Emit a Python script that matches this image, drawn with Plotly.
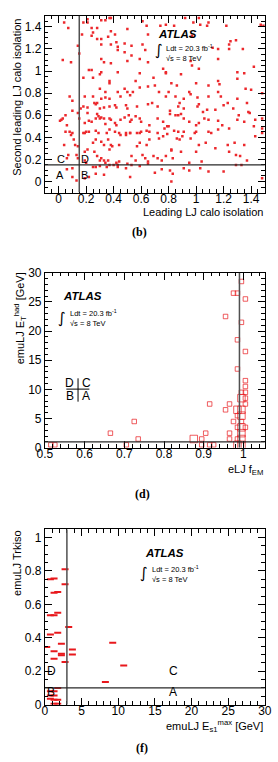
import plotly.graph_objects as go

# ---------------- panel (b) data: leading vs second-leading LJ calo isolation
b_x = [0.04,0.07,0.18,0.21,0.21,0.31,0.34,0.37,0.38,0.24,0.28,0.25,0.38,0.50,0.64,0.17,0.24,0.28,0.31,0.36,
       0.41,0.42,0.61,0.74,0.78,0.84,0.92,0.98,1.02,1.03,1.08,1.22,1.47,1.49,0.31,0.38,0.43,0.43,0.48,0.48,
       0.53,0.53,0.61,0.65,0.63,0.97,1.16,1.24,1.24,1.34,0.14,0.15,0.03,0.09,0.31,0.33,0.38,0.50,0.59,0.65,
       0.76,0.96,0.97,1.02,1.16,0.22,0.24,0.31,0.43,0.59,0.78,1.30,1.35,1.09,1.12,1.25,1.29,1.42,
       0.18,0.25,0.30,0.37,0.37,0.56,0.69,0.78,0.82,0.86,0.89,0.95,1.00,1.09,1.16,1.17,1.30,1.36,1.40,
       0.30,0.34,0.19,0.08,0.10,0.25,0.28,0.31,0.34,0.37,0.43,0.45,0.48,0.50,0.52,0.54,0.59,0.65,0.70,0.73,
       0.78,0.80,0.85,0.91,0.96,1.01,1.02,1.09,1.16,1.18,1.23,1.30,1.37,1.48,
       0.16,0.18,0.21,0.26,0.27,0.21,0.28,0.30,0.33,0.37,0.41,0.42,0.49,0.50,0.57,0.65,0.68,0.72,0.81,0.87,
       0.88,0.91,1.01,1.05,1.08,1.14,1.20,1.27,1.38,
       0.01,0.02,0.03,0.05,0.06,0.10,0.14,0.15,0.19,0.22,0.24,0.27,0.29,0.30,0.31,0.33,0.34,0.37,0.38,0.41,
       0.42,0.45,0.48,0.51,0.52,0.53,0.56,0.59,0.60,0.66,0.72,0.76,0.79,0.81,0.85,0.87,0.89,0.91,0.95,1.00,
       1.02,1.06,1.09,1.16,1.19,1.30,1.31,1.35,1.39,1.43,1.48,
       0.08,0.10,0.19,0.20,0.27,0.29,0.35,0.37,0.41,0.44,0.49,0.52,0.59,0.60,0.64,0.66,0.72,0.77,0.80,0.84,
       0.87,0.91,1.00,1.09,1.16,1.24,1.42,1.48,
       0.05,0.09,0.11,0.12,0.14,0.04,0.07,0.06,0.13,0.14,0.10,0.06,0.10,0.13,
       0.18,0.22,0.27,0.25,0.31,0.33,0.36,0.38,0.37,0.39,0.44,0.45,0.49,0.52,0.57,0.59,0.57,0.64,0.66,0.73,
       0.76,0.79,0.82,0.86,0.88,0.90,0.96,0.99,1.02,1.07,1.11,1.14,1.23,1.28,1.35,1.43,1.48,
       0.19,0.21,0.26,0.28,0.30,0.31,0.33,0.34,0.36,0.37,0.40,0.42,0.43,0.44,0.50,0.53,0.56,0.61,0.63,0.65,
       0.69,0.72,0.75,0.78,0.82,0.83,0.89,0.95,1.00,1.04,1.24,1.29,1.32,1.37,1.33,
       0.19,0.20,0.25,0.27,0.30,0.35,0.43,0.49,0.53,0.59,0.65,0.70,0.75,0.81,0.83,0.91,0.95,1.03,1.09,1.20,
       1.29,1.48,0.22,0.27,0.33,0.52,0.82,0.19]
b_y = [1.44,1.39,1.44,1.44,1.47,1.46,1.46,1.48,1.48,1.39,1.39,1.35,1.36,1.38,1.41,1.33,1.32,1.29,1.29,1.31,
       1.33,1.26,1.45,1.41,1.42,1.41,1.48,1.44,1.48,1.42,1.41,1.41,1.42,1.41,1.24,1.24,1.22,1.19,1.25,1.17,
       1.23,1.14,1.24,1.33,1.19,1.32,1.20,1.24,1.20,1.20,1.23,1.16,1.10,1.08,1.11,1.08,1.07,1.09,1.11,1.08,
       1.02,1.09,1.05,1.02,1.11,1.01,1.01,0.99,0.99,0.98,0.99,0.99,0.98,1.44,1.21,1.27,1.28,1.04,
       0.94,0.94,0.97,0.91,0.89,0.91,0.94,0.98,0.89,0.87,0.97,0.81,0.89,0.87,0.91,0.88,0.93,0.84,0.83,
       0.84,0.81,0.77,0.77,0.73,0.77,0.71,0.75,0.76,0.75,0.81,0.77,0.84,0.81,0.78,0.81,0.85,0.86,0.87,0.81,
       0.77,0.81,0.77,0.75,0.79,0.76,0.70,0.77,0.81,0.77,0.71,0.75,0.71,0.80,
       0.66,0.68,0.67,0.71,0.70,0.62,0.61,0.66,0.67,0.68,0.69,0.67,0.69,0.66,0.68,0.70,0.71,0.68,0.64,0.68,
       0.71,0.66,0.68,0.63,0.65,0.65,0.69,0.66,0.63,
       0.55,0.56,0.57,0.60,0.51,0.64,0.62,0.57,0.53,0.55,0.54,0.57,0.59,0.57,0.58,0.57,0.52,0.57,0.56,0.53,
       0.51,0.56,0.58,0.60,0.54,0.56,0.59,0.57,0.54,0.51,0.57,0.54,0.50,0.61,0.60,0.60,0.61,0.57,0.54,0.51,
       0.53,0.57,0.56,0.55,0.51,0.56,0.60,0.54,0.62,0.56,0.57,
       0.45,0.44,0.44,0.45,0.46,0.44,0.44,0.47,0.45,0.44,0.44,0.44,0.44,0.45,0.46,0.45,0.44,0.48,0.50,0.46,
       0.45,0.45,0.45,0.45,0.47,0.48,0.50,0.48,
       0.45,0.42,0.38,0.33,0.32,0.33,0.24,0.21,0.24,0.21,0.12,0.11,0.04,0.01,
       0.44,0.45,0.38,0.35,0.36,0.33,0.38,0.33,0.29,0.32,0.33,0.42,0.42,0.44,0.44,0.35,0.32,0.33,0.38,0.39,
       0.41,0.43,0.29,0.39,0.38,0.41,0.39,0.44,0.33,0.35,0.44,0.30,0.33,0.35,0.33,0.41,0.44,
       0.27,0.29,0.27,0.23,0.19,0.21,0.19,0.17,0.19,0.15,0.15,0.17,0.15,0.18,0.16,0.23,0.19,0.24,0.21,0.18,
       0.23,0.21,0.19,0.23,0.28,0.21,0.27,0.17,0.27,0.18,0.27,0.24,0.23,0.19,0.15,
       0.19,0.17,0.13,0.13,0.14,0.13,0.13,0.12,0.15,0.14,0.16,0.08,0.11,0.10,0.07,0.12,0.10,0.12,0.09,0.09,
       0.15,0.03,0.04,0.07,0.06,0.04,0.00,0.03]
b_cuts = [0.15, 0.15]  # x cut, y cut

# ---------------- panel (d) data: eLJ f_EM vs emuLJ E_T^had
d_x = [0.515,0.525,0.665,0.705,0.725,0.735,0.875,0.895,0.895,0.905,0.915,0.915,0.925,
       0.955,0.955,0.965,0.965,0.965,0.975,0.975,
       0.985,0.985,0.985,0.985,0.985,0.985,0.985,0.985,
       0.995,0.995,0.995,0.995,0.995,0.995,0.995,0.995,0.995,0.995,0.995,
       1.005,1.005,1.005,1.005,1.005,1.005,1.005,1.005]
d_y = [0.5,0.5,2.5,0.5,4.5,1.5,1.5,1.5,0.5,2.5,7.5,0.5,0.5,
       22.5,6.5,7.5,2.5,1.5,26.5,4.5,
       26.5,18.5,13.5,6.5,5.5,3.5,1.5,0.5,
       28.5,21.5,9.5,8.5,6.5,5.5,4.5,3.5,2.5,1.5,0.5,
       25.5,16.5,11.5,10.5,9.5,8.5,7.5,3.5]
d_n = [1,1,1,1,1,1,2,1,1,1,1,1,1,
       1,1,1,1,1,1,1,
       1,1,1,2,1,1,1,2,
       1,1,1,2,2,2,1,2,2,2,2,
       1,1,1,1,1,1,1,1]
d_cuts = [0.99, 1.0]

# ---------------- panel (f) data: emuLJ E_s1^max vs emuLJ Trkiso
f_x = [2.75,0.75,1.25,2.75,1.25,1.75,1.75,0.75,1.25,3.25,0.75,1.75,2.25,0.25,9.25,1.25,3.75,
       2.25,2.25,3.75,1.25,2.75,10.75,8.25,1.75,
       0.75,1.25,0.75,1.25,0.75,1.25,1.75,1.25,1.75]
f_y = [0.81,0.75,0.755,0.72,0.67,0.675,0.55,0.535,0.535,0.465,0.42,0.43,0.365,0.345,0.37,0.32,0.33,
       0.305,0.295,0.30,0.275,0.255,0.235,0.135,0.10,
       0.08,0.08,0.055,0.055,0.035,0.03,0.03,0.005,0.005]
f_cuts = [3.0, 0.1]

FONT = "Liberation Sans, Arial, Helvetica, sans-serif"
RED = "rgb(232,24,28)"

fig = go.Figure()
fig.add_trace(go.Scatter(x=b_x, y=b_y, mode="markers", xaxis="x", yaxis="y",
                         marker=dict(symbol="square", size=2.5, color="rgb(236,40,44)", line=dict(width=0)),
                         showlegend=False, hoverinfo="skip"))
fig.add_trace(go.Scatter(x=d_x, y=d_y, mode="markers", xaxis="x2", yaxis="y2",
                         marker=dict(symbol="square-open", size=[4.5 if n == 1 else 7.5 for n in d_n],
                                     color=RED, line=dict(width=1, color=RED)),
                         showlegend=False, hoverinfo="skip"))
fig.add_trace(go.Scatter(x=f_x, y=f_y, mode="markers", xaxis="x3", yaxis="y3",
                         marker=dict(symbol="line-ew", size=5, color=RED, line=dict(width=2, color=RED)),
                         showlegend=False, hoverinfo="skip"))

XD = [39 / 278, 271.5 / 278]


def ydom(top, bot):
    return [1 - bot / 762, 1 - top / 762]


def axis(rng, dtick, minor, domain, anchor, tick0=0, standoff=0):
    return dict(range=rng, dtick=dtick, tick0=tick0, domain=domain, anchor=anchor,
                showline=True, linecolor="black", linewidth=1, mirror="allticks",
                ticks="inside", ticklen=7, tickwidth=1, tickcolor="black",
                minor=dict(ticks="inside", ticklen=3.5, dtick=minor, tickcolor="black", tickwidth=1),
                showgrid=False, zeroline=False, ticklabeloverflow="allow",
                ticklabelstandoff=standoff,
                tickfont=dict(family=FONT, size=12, color="black"))


fig.update_layout(
    width=278, height=762, margin=dict(l=0, r=0, t=0, b=0),
    paper_bgcolor="white", plot_bgcolor="white",
    xaxis=axis([-0.1, 1.5], 0.2, 0.05, XD, "y", standoff=-5),
    yaxis=axis([-0.1, 1.5], 0.2, 0.05, ydom(9, 189), "x"),
    xaxis2=axis([0.5, 1.054], 0.1, 0.02, XD, "y2", tick0=0.5, standoff=-5),
    yaxis2=axis([0, 30], 5, 1, ydom(270.7, 449), "x2"),
    xaxis3=axis([0, 30], 5, 1, XD, "y3", standoff=-5),
    yaxis3=axis([0, 1.05], 0.2, 0.05, ydom(532, 710.7), "x3"),
)

shapes = []
for xr, yr, cx, cy, lo_y, hi_y, lo_x, hi_x in [
        ("x", "y", b_cuts[0], b_cuts[1], -0.1, 1.5, -0.1, 1.5),
        ("x2", "y2", d_cuts[0], d_cuts[1], 0, 30, 0.5, 1.054),
        ("x3", "y3", f_cuts[0], f_cuts[1], 0, 1.05, 0, 30)]:
    shapes.append(dict(type="line", xref=xr, yref=yr, x0=cx, x1=cx, y0=lo_y, y1=hi_y,
                       line=dict(color="rgb(80,80,80)", width=1.5)))
    shapes.append(dict(type="line", xref=xr, yref=yr, x0=lo_x, x1=hi_x, y0=cy, y1=cy,
                       line=dict(color="rgb(40,40,40)", width=1.2)))
# small D|C / B|A legend cross in panel (d)
shapes.append(dict(type="line", xref="x2", yref="y2", x0=0.5835, x1=0.5835, y0=7.9, y1=11.9,
                   line=dict(color="black", width=1)))
shapes.append(dict(type="line", xref="x2", yref="y2", x0=0.554, x1=0.612, y0=10.05, y1=10.05,
                   line=dict(color="black", width=1)))
fig.update_layout(shapes=shapes)

ann = []


def txt(x, y, text, xr, yr, size=11, xanchor="left", yanchor="middle", **kw):
    ann.append(dict(x=x, y=y, xref=xr, yref=yr, text=text, showarrow=False,
                    xanchor=xanchor, yanchor=yanchor,
                    font=dict(family=FONT, size=size, color="black"), **kw))


def atlas(xr, yr, x, y, xi, yi, xl, yl, ys):
    txt(x, y, "<b><i>ATLAS</i></b>", xr, yr, size=11.5)
    ann.append(dict(x=xi, y=yi, xref=xr, yref=yr, text="∫", showarrow=False,
                    xanchor="right", yanchor="middle",
                    font=dict(family="DejaVu Sans", size=15, color="black")))
    txt(xl, yl, "Ldt = 20.3 fb<sup>-1</sup>", xr, yr, size=7.5)
    txt(xl, ys, "√s = 8 TeV", xr, yr, size=7.5)


# panel (b)
atlas("x", "y", 0.71, 1.34, 0.775, 1.19, 0.77, 1.21, 1.11)
txt(0.02, 0.20, "C", "x", "y", xanchor="center")
txt(0.19, 0.20, "D", "x", "y", xanchor="center")
txt(0.01, 0.055, "A", "x", "y", xanchor="center")
txt(0.19, 0.055, "B", "x", "y", xanchor="center")
# panel (d)
atlas("x2", "y2", 0.541, 26.0, 0.559, 22.3, 0.558, 23.1, 21.3)
txt(0.562, 11.1, "D", "x2", "y2", size=12, xanchor="center")
txt(0.604, 11.1, "C", "x2", "y2", size=12, xanchor="center")
txt(0.562, 8.9, "B", "x2", "y2", size=12, xanchor="center")
txt(0.604, 8.9, "A", "x2", "y2", size=12, xanchor="center")
# panel (f)
atlas("x3", "y3", 13.4, 0.905, 14.3, 0.79, 14.3, 0.812, 0.75)
txt(0.9, 0.204, "D", "x3", "y3", size=12, xanchor="center")
txt(17.5, 0.204, "C", "x3", "y3", size=12, xanchor="center")
txt(0.8, 0.075, "B", "x3", "y3", size=12, xanchor="center")
txt(17.5, 0.075, "A", "x3", "y3", size=12, xanchor="center")

# axis titles
txt(XD[1], 1 - 209 / 762, "Leading LJ calo isolation", "paper", "paper", size=11, xanchor="right")
txt(10 / 278, 1 - 10 / 762, "Second leading LJ calo isolation", "paper", "paper", size=11,
    xanchor="center", yanchor="top", textangle=-90)
txt(XD[1], 1 - 472 / 762, "eLJ f<sub>EM</sub>", "paper", "paper", size=11, xanchor="right")
txt(13 / 278, 1 - 268 / 762, "emuLJ E<sub>T</sub><sup>had</sup> [GeV]", "paper", "paper", size=11,
    xanchor="center", yanchor="top", textangle=-90)
txt(XD[1], 1 - 732 / 762, "emuLJ E<sub>s1</sub><sup>max</sup> [GeV]", "paper", "paper", size=11,
    xanchor="right")
txt(10 / 278, 1 - 531.7 / 762, "emuLJ Trkiso", "paper", "paper", size=11,
    xanchor="center", yanchor="top", textangle=-90)

# captions
for cx, cy, lab in [(139, 229, "(b)"), (141.7, 496, "(d)"), (141.7, 755, "(f)")]:
    ann.append(dict(x=cx / 278, y=1 - cy / 762, xref="paper", yref="paper", text="<b>" + lab + "</b>",
                    showarrow=False, xanchor="center", yanchor="middle",
                    font=dict(family="Liberation Serif, DejaVu Serif, serif", size=12, color="black")))

fig.update_layout(annotations=ann)
fig.write_html("out.html")
